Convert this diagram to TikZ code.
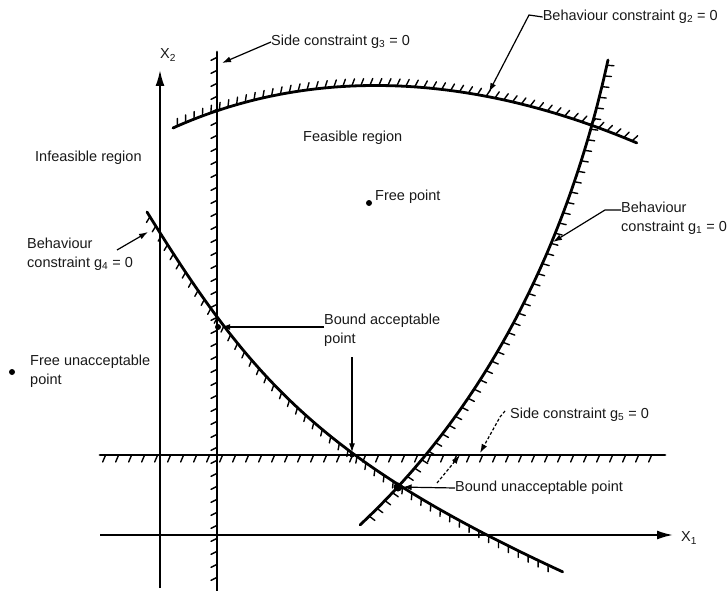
\documentclass[tikz,border=0pt]{standalone}
\usepackage{fontspec}
\setmainfont{Liberation Sans}
\usetikzlibrary{arrows.meta,decorations.markings}
\begin{document}
\begin{tikzpicture}[x=1pt,y=-1pt,
  lbl/.style={font=\fontsize{14.5}{19}\selectfont, inner sep=0pt, text=black!90},
  bound/.style={line width=2.8pt, line cap=round},
  axis/.style={line width=1.9pt},
  lead/.style={line width=1.2pt, -{Latex[length=9pt,width=6pt]}},
  hatch/.style n args={3}{postaction={decorate,decoration={markings,
     mark=between positions 0.01 and 0.99 step #1 with {\draw[line width=1.4pt] (0pt,0pt) -- (#2,#3);}}}},
  dotp/.style={circle, fill=black, inner sep=0pt, minimum size=6pt},
  bez/.style={variable=\t, domain=0:1, samples=90}
]
\useasboundingbox (0,0) rectangle (728,591);

% axes
\coordinate (x2b) at (160,588);
\coordinate (x2t) at (160,70);
\coordinate (x1l) at (100,535);
\coordinate (x1r) at (673,535);
\draw[axis, -{Latex[length=16pt,width=9pt]}] (x2b) -- (x2t);
\draw[axis, -{Latex[length=16pt,width=9pt]}] (x1l) -- (x1r);
\node[lbl] (X2) at (168,55) {X\textsubscript{2}};
\node[lbl] (X1) at (689,538) {X\textsubscript{1}};

% side constraint g3 (vertical)
\coordinate (g3t) at (217,52);
\coordinate (g3b) at (217,591);
\draw[bound, hatch={13pt}{3pt}{-6pt}] (g3t) -- (g3b);

% side constraint g5 (horizontal)
\coordinate (g5l) at (100,455);
\coordinate (g5r) at (665,455);
\draw[bound, hatch={13pt}{-3pt}{-7pt}] (g5l) -- (g5r);

% behaviour constraint g2 (top curve)
\draw[bound, hatch={9pt}{3pt}{7pt}] plot[bez]
  ({(1-\t)^3*173+3*(1-\t)^2*\t*302+3*(1-\t)*\t^2*460+\t^3*637},
   {(1-\t)^3*128+3*(1-\t)^2*\t*70+3*(1-\t)*\t^2*68+\t^3*143});

% behaviour constraint g1
\draw[bound, hatch={11pt}{-1pt}{7pt}] plot[bez]
  ({(1-\t)^3*608+3*(1-\t)^2*\t*565+3*(1-\t)*\t^2*478+\t^3*360},
   {(1-\t)^3*60+3*(1-\t)^2*\t*258+3*(1-\t)*\t^2*415+\t^3*525});

% behaviour constraint g4
\draw[bound, hatch={11pt}{3pt}{-6pt}] plot[bez]
  ({(1-\t)^3*147+3*(1-\t)^2*\t*250+3*(1-\t)*\t^2*320+\t^3*563},
   {(1-\t)^3*212+3*(1-\t)^2*\t*378+3*(1-\t)*\t^2*460+\t^3*572});

% points
\node[dotp] (bap) at (218,327) {};
\node[dotp, minimum size=5pt] (bap2) at (352,455) {};
\node[dotp, minimum size=9pt] (bup) at (398,487) {};
\node[dotp] (fp) at (369,203) {};
\node[dotp] (fup) at (12,372) {};

% labels
\node[lbl, anchor=west] (lg3) at (271,42) {Side constraint g\textsubscript{3} = 0};
\node[lbl, anchor=east] (lg2) at (718,17) {Behaviour constraint g\textsubscript{2} = 0};
\node[lbl, anchor=west] (lfeas) at (303,138) {Feasible region};
\node[lbl, anchor=west] (linf) at (35,158) {Infeasible region};
\node[lbl, anchor=west] (lfp) at (375,197) {Free point};
\node[lbl, anchor=west, align=left] (lg1) at (621,218) {Behaviour\\constraint g\textsubscript{1} = 0};
\node[lbl, anchor=west, align=left] (lg4) at (27,254) {Behaviour\\constraint g\textsubscript{4} = 0};
\node[lbl, anchor=west, align=left] (lbap) at (324,330) {Bound acceptable\\point};
\node[lbl, anchor=west, align=left] (lfup) at (30,371) {Free unacceptable\\point};
\node[lbl, anchor=west] (lg5) at (510,415) {Side constraint g\textsubscript{5} = 0};
\node[lbl, anchor=west] (lbup) at (455,488) {Bound unacceptable point};

% leaders
\coordinate (a3) at (222,63);
\draw[lead] (lg3.west) -- (a3);
\coordinate (k2) at (529,15);
\coordinate (a2) at (489,92);
\draw[lead] (lg2.west) -- (k2) -- (a2);
\coordinate (k1) at (605,210);
\coordinate (a1) at (553,242);
\draw[lead] (lg1.west |- k1) -- (k1) -- (a1);
\coordinate (s4) at (117,250);
\coordinate (a4) at (148,232);
\draw[lead] (s4) -- (a4);
\draw[lead] (lbap.west |- bap) -- (bap);
\coordinate (vb) at (352,357);
\draw[lead] (vb) -- (bap2);
\coordinate (k5) at (505,411);
\coordinate (m5) at (500,417);
\coordinate (a5) at (480,453);
\draw[lead, densely dashed] (k5) -- (m5) -- (a5);
\draw[lead] (lbup.west) -- (bup);
\coordinate (du) at (437,483);
\coordinate (dt) at (460,455);
\draw[lead, densely dashed] (du) -- (dt);
\end{tikzpicture}
\end{document}
